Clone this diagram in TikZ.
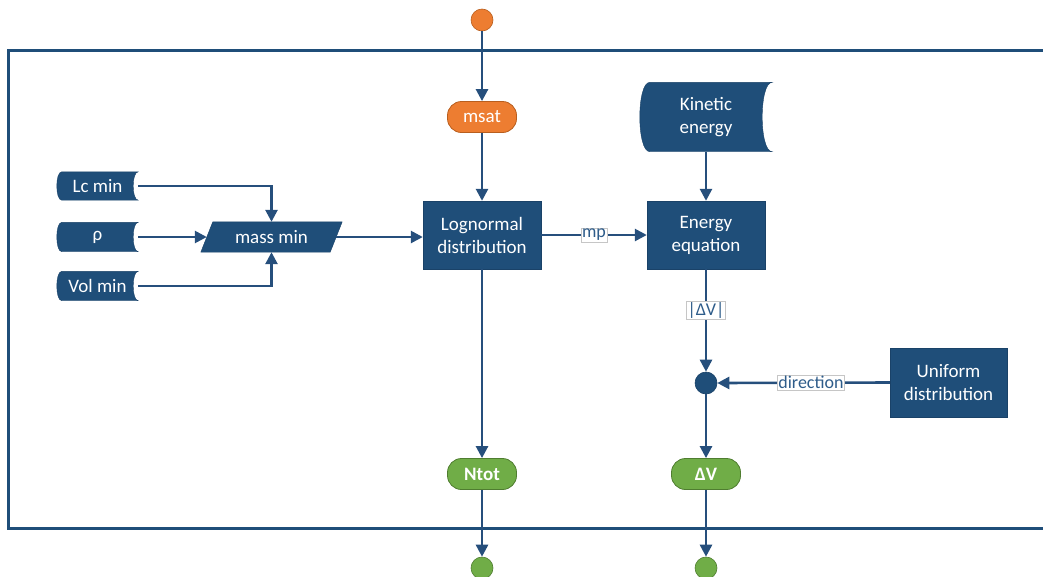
\documentclass[tikz,border=0pt]{standalone}
\usepackage{fontspec}
\setmainfont{Carlito}
\usetikzlibrary{arrows.meta}
\definecolor{navy}{HTML}{1F4E79}
\definecolor{navyd}{HTML}{1A4268}
\definecolor{lineblue}{HTML}{264F7C}
\definecolor{labblue}{HTML}{2E5C8A}
\definecolor{orng}{HTML}{ED7D31}
\definecolor{orngd}{HTML}{B85E1E}
\definecolor{grn}{HTML}{70AD47}
\definecolor{grnd}{HTML}{4F7D30}
\pgfdeclarelayer{bg}
\pgfsetlayers{bg,main}
\newcommand\storeshape[2]{%
  \fill[navy,draw=navyd] ([xshift=#2]#1.north west)
    .. controls ([xshift=-#2/3]#1.north west) and ([xshift=-#2/3]#1.south west) .. ([xshift=#2]#1.south west)
    -- (#1.south east)
    .. controls ([xshift=-4*#2/3]#1.south east) and ([xshift=-4*#2/3]#1.north east) .. (#1.north east)
    -- cycle;}
\begin{document}
\begin{tikzpicture}[x=1pt,y=-1pt,
  every node/.style={font=\fontsize{19}{23}\selectfont},
  proc/.style={fill=navy,draw=navyd,text=white,align=center,minimum width=118pt,minimum height=68pt,inner sep=0},
  store/.style={text=white,align=center,inner sep=0},
  pill/.style={rounded corners=14pt,minimum width=69pt,minimum height=31pt,inner sep=0,text=white,line width=0.8pt},
  endpt/.style={circle,minimum size=22pt,inner sep=0,line width=0.6pt},
  conn/.style={draw=lineblue,line width=2.6pt,-{Triangle[width=12pt,length=12pt]}},
  lab/.style={fill=white,draw=gray!45,line width=0.5pt,text=labblue,inner sep=1pt,font=\fontsize{18}{20}\selectfont},
  frame/.style={draw=navy,line width=3pt}]
\useasboundingbox (0,0) rectangle (1043,576);
\draw[frame] (1043,50) -- (8,50) -- (8,528) -- (1043,528);

% nodes
\node[endpt,fill=orng,draw=orngd] (start) at (482,20) {};
\node[pill,fill=orng,draw=orngd] (msat) at (482,117) {msat};
\node[store,minimum width=132pt,minimum height=69pt] (kin) at (706,117) {Kinetic\\energy};
\node[store,minimum width=81pt,minimum height=28pt] (lc) at (97.5,186) {Lc min};
\node[store,minimum width=81pt,minimum height=29pt] (rho) at (97.5,237) {ρ};
\node[store,minimum width=81pt,minimum height=29pt] (vol) at (97.5,286) {Vol min};
\node[store,minimum width=129pt,minimum height=30pt] (mass) at (271.5,237) {mass min};
\node[proc] (logn) at (482,235) {Lognormal\\distribution};
\node[proc] (energy) at (706,235) {Energy\\equation};
\node[endpt,fill=navy,draw=navyd] (junc) at (706,383) {};
\node[proc,minimum width=117pt,minimum height=69pt] (unif) at (948.5,382.5) {Uniform\\distribution};
\node[pill,fill=grn,draw=grnd,font=\bfseries\fontsize{19}{23}\selectfont] (ntot) at (482,474) {Ntot};
\node[pill,fill=grn,draw=grnd,font=\bfseries\fontsize{19}{23}\selectfont] (dv) at (706,474) {ΔV};
\node[endpt,fill=grn,draw=grnd] (end1) at (482,568) {};
\node[endpt,fill=grn,draw=grnd] (end2) at (706,568) {};

\begin{pgfonlayer}{bg}
  \storeshape{kin}{10}
  \storeshape{lc}{5}
  \storeshape{rho}{5}
  \storeshape{vol}{5}
  \fill[navy,draw=navyd] ([xshift=6pt]mass.north west) -- ([xshift=6pt]mass.north east)
     -- ([xshift=-6pt]mass.south east) -- ([xshift=-6pt]mass.south west) -- cycle;
\end{pgfonlayer}

% connectors
\draw[conn] (start) -- (msat);
\draw[conn] (msat) -- (logn);
\draw[conn] (lc.east) -| (mass.north);
\draw[conn] (vol.east) -| (mass.south);
\draw[conn] (rho.east) -- (mass.west);
\draw[conn] (mass.east) -- (mass.east -| logn.west);
\draw[conn] (logn.east) -- node[lab] {mp} (energy.west);
\draw[conn] (kin.south) -- (energy.north);
\draw[conn] (energy.south) -- node[lab,pos=0.4] {|ΔV|} (junc.north);
\draw[conn] (unif.west) -- node[lab,pos=0.457] {direction} (junc.east);
\draw[conn] (junc.south) -- (dv.north);
\draw[conn] (logn.south) -- (ntot.north);
\draw[conn] (ntot.south) -- (end1.north);
\draw[conn] (dv.south) -- (end2.north);
\end{tikzpicture}
\end{document}
